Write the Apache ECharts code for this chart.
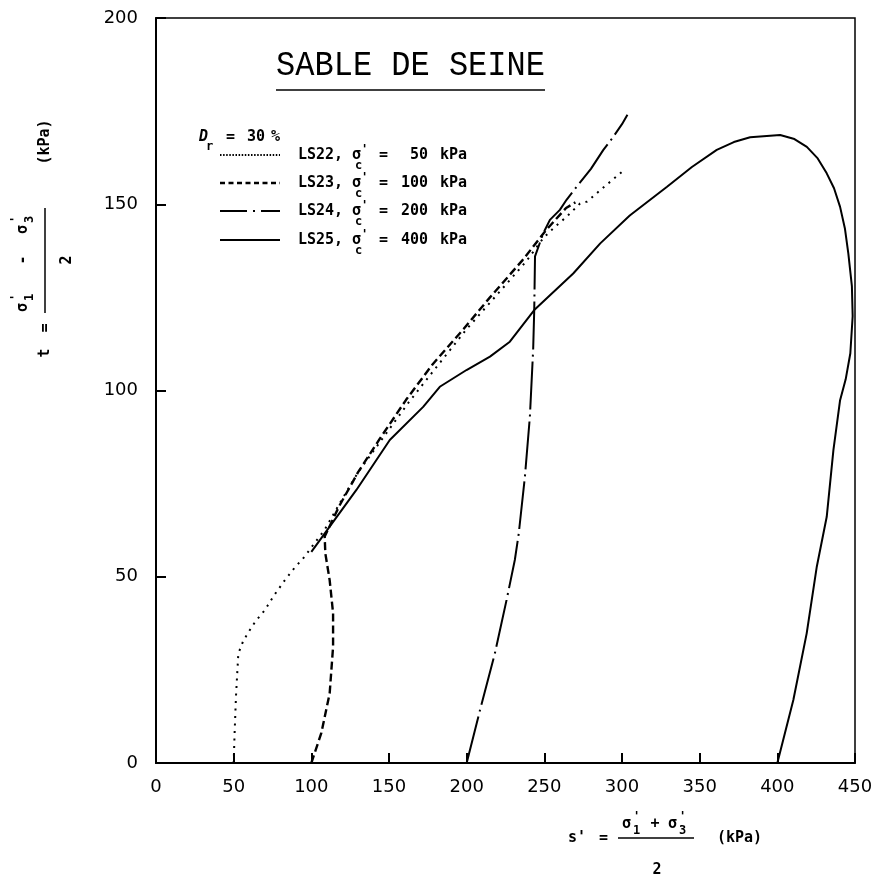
<!DOCTYPE html>
<html>
<head>
<meta charset="utf-8">
<script src="https://cdn.jsdelivr.net/npm/echarts@6/dist/echarts.min.js"></script>
<style>
html,body{margin:0;padding:0;background:#fff;}
#chart{width:878px;height:884px;}
</style>
</head>
<body>
<div id="chart"></div>
<script>
// ---- data (s' , t in kPa) ----
const xTicks = [0, 50, 100, 150, 200, 250, 300, 350, 400, 450];
const yTicks = [0, 50, 100, 150, 200];

const seriesNames = ['LS22', 'LS23', 'LS24', 'LS25'];
const sigmaC = ['50', '100', '200', '400'];

const sLS22 = [50, 50.6, 51.5, 53, 56, 59, 64, 70, 76, 83, 89, 95.7, 102, 108.6, 118, 130, 146.5, 163, 180, 200, 218, 238, 249.5, 257, 264.5, 273, 277.5, 288, 300];
const tLS22 = [0, 8, 18, 29.4, 32.6, 34.8, 38, 41, 45, 49.1, 52.3, 55.4, 59, 62.6, 69.5, 78, 87.5, 97, 106, 116.5, 125, 134.5, 141, 144, 146.7, 150.2, 150.7, 154.5, 158.7];

const sLS23 = [100, 106.4, 111.8, 114, 114, 111.8, 109, 108.6, 118, 130, 144, 161, 178, 198, 215, 236, 251, 264, 270];
const tLS23 = [0, 8, 18.7, 31.2, 40.2, 49.1, 56.3, 60.8, 69, 78, 87, 97.5, 107, 116.5, 125, 135, 143, 149, 150.5];

const sLS24 = [200, 208.6, 218.2, 225.7, 231, 233.5, 237.5, 240.7, 242.8, 243.5, 244, 249.3, 253.6, 260, 264.3, 270.8, 280, 288, 294.4, 300, 303.5];
const tLS24 = [0, 14.2, 29.5, 43.8, 54.5, 61.5, 76.9, 93, 110.9, 121.6, 136, 142.2, 145.8, 148.5, 151.2, 154.7, 159.5, 164.6, 168.1, 171.5, 174];

const sLS25 = [400, 410.3, 418.9, 425.4, 431.8, 436.1, 440.4, 444, 447, 448.5, 448, 445.7, 443.5, 440.4, 436.5, 431.8, 426, 419, 411, 401.8, 382.5, 372, 361, 345, 329, 305, 286, 268.6, 243.5, 227.8, 215, 199.9, 182.7, 172, 150.5, 129, 100];
const tLS25 = [0, 16.9, 34.8, 52.7, 66.1, 84, 97.4, 103, 110, 120, 128, 136.8, 143.5, 149.3, 154.3, 158.3, 162.3, 165.4, 167.5, 168.6, 168, 166.7, 164.6, 160, 154.7, 147, 139.5, 131.4, 121.6, 113.1, 109.1, 105.5, 101, 95.6, 86.7, 73.3, 56.7];

const pairs = (xs, ys) => xs.map((x, i) => [x, ys[i]]);

// ---- styles ----
const dashCurve = [[2, 5.5], [8, 4], [48, 5, 2, 5], 'solid'];
const dashLegend = [[1.5, 1.6], [5, 3.5], [27, 6, 2, 6], 'solid'];
const widths = [2, 2.4, 2, 2];
const allData = [pairs(sLS22, tLS22), pairs(sLS23, tLS23), pairs(sLS24, tLS24), pairs(sLS25, tLS25)];

const MONO = '"DejaVu Sans Mono"';
function T(x, y, text, font, align, extra) {
  const o = {
    type: 'text', x: x, y: y, silent: true,
    style: {
      text: text, fill: '#000', font: font,
      textAlign: align || 'left', align: align || 'left',
      textVerticalAlign: 'middle', verticalAlign: 'middle'
    }
  };
  if (extra) Object.assign(o, extra);
  return o;
}
function L(x1, y1, x2, y2, w, dash) {
  return {
    type: 'line', silent: true,
    shape: { x1: x1, y1: y1, x2: x2, y2: y2 },
    style: { stroke: '#000', lineWidth: w, lineDash: dash === 'solid' ? null : dash }
  };
}

const fB = 'bold 15px ' + MONO;
const fS = 'bold 12px ' + MONO;

const graphics = [];
// Title
graphics.push(T(410.5, 74, 'SABLE DE SEINE', '32px "Liberation Mono"', 'center', { scaleY: 1.12, originX: 410.5, originY: 74 }));
graphics.push(L(276, 90, 545, 90, 1.5, 'solid'));

// Dr = 30 %
graphics.push(T(199, 137, 'D', 'italic bold 15px ' + MONO, 'left'));
graphics.push(T(206, 147, 'r', fS, 'left'));
graphics.push(T(226, 137, '=', fB, 'left'));
graphics.push(T(247, 137, '30', fB, 'left'));
graphics.push(T(271, 137, '%', fB, 'left'));

// legend rows
const rowY = [155, 183, 211, 240];
seriesNames.forEach((nm, i) => {
  const y = rowY[i];
  graphics.push(L(220, y, 280, y, widths[i], dashLegend[i]));
  graphics.push(T(298, y, nm + ',', fB, 'left'));
  graphics.push(T(352, y, 'σ', fB, 'left'));
  graphics.push(T(361, y - 5, "'", fS, 'left'));
  graphics.push(T(355, y + 11, 'c', fS, 'left'));
  graphics.push(T(379, y, '=', fB, 'left'));
  graphics.push(T(428, y, sigmaC[i], fB, 'right'));
  graphics.push(T(440, y, 'kPa', fB, 'left'));
});

// x axis title: s' = (σ'1 + σ'3)/2 (kPa)
graphics.push(T(568, 838, "s'", fB, 'left'));
graphics.push(T(599, 838, '=', fB, 'left'));
graphics.push(T(622, 824, 'σ', fB, 'left'));
graphics.push(T(633, 817, "'", fS, 'left'));
graphics.push(T(633, 831, '1', fS, 'left'));
graphics.push(T(655, 824, '+', fB, 'center'));
graphics.push(T(668, 824, 'σ', fB, 'left'));
graphics.push(T(679, 817, "'", fS, 'left'));
graphics.push(T(679, 831, '3', fS, 'left'));
graphics.push(L(618, 838, 694, 838, 1.5, 'solid'));
graphics.push(T(657, 870, '2', fB, 'center'));
graphics.push(T(717, 838, '(kPa)', fB, 'left'));

// y axis title (rotated): t = (σ'1 - σ'3)/2 (kPa)
graphics.push({
  type: 'group', x: 45, y: 260, rotation: Math.PI / 2, silent: true,
  children: [
    T(-93, 0, 't', fB, 'center'),
    T(-68, 0, '=', fB, 'center'),
    T(-52, -22, 'σ', fB, 'left'),
    T(-41, -29, "'", fS, 'left'),
    T(-41, -15, '1', fS, 'left'),
    T(0, -22, '-', fB, 'center'),
    T(26, -22, 'σ', fB, 'left'),
    T(37, -29, "'", fS, 'left'),
    T(37, -15, '3', fS, 'left'),
    L(-53, 0, 52, 0, 1.5, 'solid'),
    T(0, 22, '2', fB, 'center'),
    T(118, 0, '(kPa)', fB, 'center')
  ]
});

const chart = echarts.init(document.getElementById('chart'), null, { renderer: 'canvas' });
const axisCommon = {
  type: 'value',
  axisLine: { show: true, onZero: false, lineStyle: { color: '#000', width: 2 } },
  axisTick: { show: true, inside: true, length: 10, lineStyle: { color: '#000', width: 2 } },
  splitLine: { show: false },
  axisLabel: { color: '#000', fontFamily: '"DejaVu Sans"', fontSize: 18 }
};
chart.setOption({
  animation: false,
  backgroundColor: '#fff',
  grid: { left: 156, right: 23, top: 18, bottom: 121, show: true, borderColor: '#000', borderWidth: 1.5, backgroundColor: 'transparent' },
  xAxis: Object.assign({}, axisCommon, {
    min: xTicks[0], max: xTicks[xTicks.length - 1], interval: xTicks[1] - xTicks[0],
    axisLabel: Object.assign({}, axisCommon.axisLabel, { margin: 15 })
  }),
  yAxis: Object.assign({}, axisCommon, {
    min: yTicks[0], max: yTicks[yTicks.length - 1], interval: yTicks[1] - yTicks[0],
    axisLabel: Object.assign({}, axisCommon.axisLabel, { margin: 18 })
  }),
  series: seriesNames.map((nm, i) => ({
    name: nm,
    type: 'line',
    data: allData[i],
    symbol: 'none',
    showSymbol: false,
    smooth: false,
    clip: true,
    lineStyle: { color: '#000', width: widths[i], type: dashCurve[i] }
  })),
  graphic: graphics
});
</script>
</body>
</html>
